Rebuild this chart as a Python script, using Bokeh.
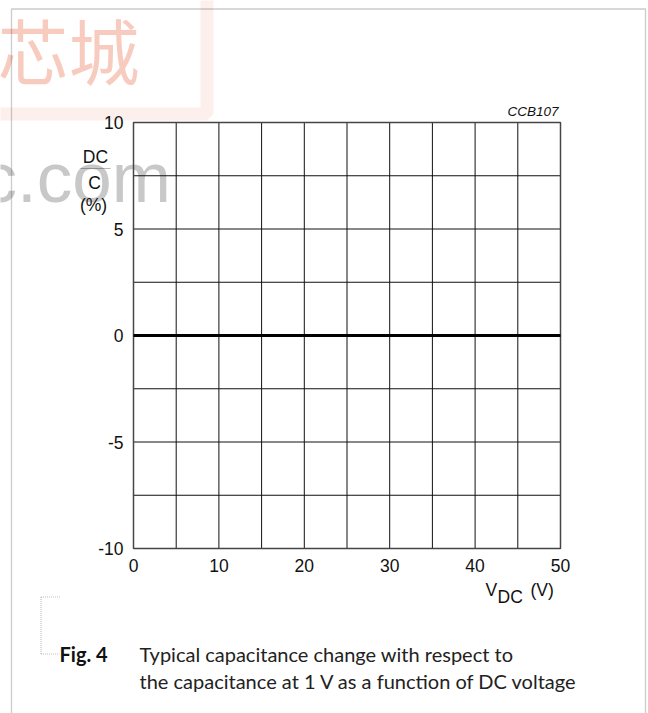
from bokeh.plotting import figure
from bokeh.models import Range1d, FixedTicker, Label, PolyAnnotation
from bokeh.embed import file_html
from bokeh.resources import INLINE

# ---- data ----
vdc_ticks = [0, 10, 20, 30, 40, 50]
pct_ticks = [-10, -5, 0, 5, 10]
pct_tick_labels = ["-10", "-5", "0", "5", "10"]
vdc_grid = [0, 5, 10, 15, 20, 25, 30, 35, 40, 45, 50]
pct_grid = [-10, -7.5, -5, -2.5, 0, 2.5, 5, 7.5, 10]
vdc = [0, 50]
dc_change = [0, 0]

W, H = 648, 713
FL, FT, FR, FB = 133, 122, 560, 548   # chart-area edges in picture pixels
FONT = "Liberation Sans"
U = "canvas"

# ranges chosen so the data box lands on the chart area while the frame fills the canvas
x0, x1 = vdc_grid[0], vdc_grid[-1]
y0, y1 = pct_grid[0], pct_grid[-1]
kx = (FR - FL) / (x1 - x0)
ky = (FB - FT) / (y1 - y0)
xr = Range1d(x0 - FL / kx, x1 + (W - FR) / kx)
yr = Range1d(y0 - (H - FB) / ky, y1 + FT / ky)

p = figure(width=W, height=H, x_range=xr, y_range=yr,
           output_backend="svg", toolbar_location=None,
           min_border=0, min_border_left=0, min_border_right=0,
           min_border_top=0, min_border_bottom=0)

p.background_fill_color = "white"
p.border_fill_color = "white"
p.outline_line_color = None
p.xgrid.visible = False
p.ygrid.visible = False

for ax in (p.xaxis[0], p.yaxis[0]):
    ax.axis_line_color = None
    ax.major_tick_line_color = None
    ax.minor_tick_line_color = None
    ax.major_tick_out = 0
    ax.major_tick_in = 0
    ax.major_label_text_font = FONT
    ax.major_label_text_font_size = "17.5px"
    ax.major_label_text_color = "#111111"

p.xaxis[0].ticker = FixedTicker(ticks=vdc_ticks)
p.yaxis[0].ticker = FixedTicker(ticks=pct_ticks)
p.xaxis[0].fixed_location = y0
p.yaxis[0].fixed_location = x0
p.yaxis[0].major_label_overrides = {t: s for t, s in zip(pct_ticks, pct_tick_labels)}
p.xaxis[0].major_label_standoff = 10
p.yaxis[0].major_label_standoff = 10

# ---- watermark (beneath everything) ----
pink = "#f8cbbf"
p.add_layout(PolyAnnotation(xs=[206.5, 206.5, -30, -30], ys=[-30, 113.5, 113.5, -30],
                            xs_units=U, ys_units=U,
                            fill_color=None, line_color=pink, line_width=13,
                            level="image"))
p.add_layout(Label(x=-3, y=-4, x_units=U, y_units=U,
                   text="芯城", text_font="Noto Sans CJK SC", text_font_size="71px",
                   text_color=pink, text_baseline="top", text_align="left",
                   level="image"))
p.add_layout(Label(x=-19, y=177, x_units=U, y_units=U,
                   text="c.com", text_font=FONT, text_font_size="71px",
                   text_color="#c8c8c8", text_baseline="alphabetic", text_align="left",
                   level="image"))

# ---- grid and chart border ----
p.segment(x0=vdc_grid[1:-1], y0=[y0] * (len(vdc_grid) - 2),
          x1=vdc_grid[1:-1], y1=[y1] * (len(vdc_grid) - 2),
          line_color="#111111", line_width=1)
p.segment(x0=[x0] * (len(pct_grid) - 2), y0=pct_grid[1:-1],
          x1=[x1] * (len(pct_grid) - 2), y1=pct_grid[1:-1],
          line_color="#111111", line_width=1)
p.quad(left=[x0], right=[x1], bottom=[y0], top=[y1],
       fill_color=None, line_color="#454545", line_width=1.5)

# curve
p.line(vdc, dc_change, line_color="black", line_width=2.8)

# ---- outer frame ----
p.add_layout(PolyAnnotation(xs=[11, 11, 645, 645], ys=[740, 8.5, 8.5, 740],
                            xs_units=U, ys_units=U,
                            fill_color=None, line_color="#555555", line_width=1.3))


def seg(xa, ya, xb, yb, color, width, dash="solid"):
    p.add_layout(PolyAnnotation(xs=[xa, xb], ys=[ya, yb], xs_units=U, ys_units=U,
                                fill_color=None, line_color=color, line_width=width,
                                line_dash=dash))


def lab(text, px, py, size, align="left", font=FONT, style="normal", color="#111111"):
    # py is the wanted baseline; the renderer sits text about 0.32 em low
    s = float(size.replace("px", ""))
    p.add_layout(Label(x=px, y=py - 0.32 * s, x_units=U, y_units=U,
                       text=text, text_font=font, text_font_size=size,
                       text_font_style=style, text_color=color,
                       text_align=align, text_baseline="alphabetic"))


# figure code
lab("CCB107", 558, 115, "13.5px", align="right", style="italic")

# y-axis label: DC / C (%)
lab("DC", 95, 162, "17.5px", align="center")
seg(80, 168, 110, 168, "#111111", 1.2)
lab("C", 94, 188, "17.5px", align="center")
lab("(%)", 93, 210, "17.5px", align="center")

# x-axis label: V_DC (V)
lab("V", 485, 595, "17.5px")
lab("DC", 497, 602, "17.5px")
lab("(V)", 530, 595, "17.5px")

# dotted bracket
seg(40.5, 596.5, 60, 596.5, "#333333", 1.2, "1 1")
seg(40.5, 596.5, 40.5, 653.5, "#333333", 1.2, "1 1")
seg(40.5, 653.5, 59, 653.5, "#333333", 1.2, "1 1")

# caption
lab("Fig. 4", 59, 659.5, "20px", font="Lato", style="bold")
lab("Typical capacitance change with respect to", 139, 659.5, "20px", font="Lato",
    color="#222222")
lab("the capacitance at 1 V as a function of DC voltage", 139, 687, "20px",
    font="Lato", color="#222222")

open("out.html", "w").write(file_html(p, INLINE))
